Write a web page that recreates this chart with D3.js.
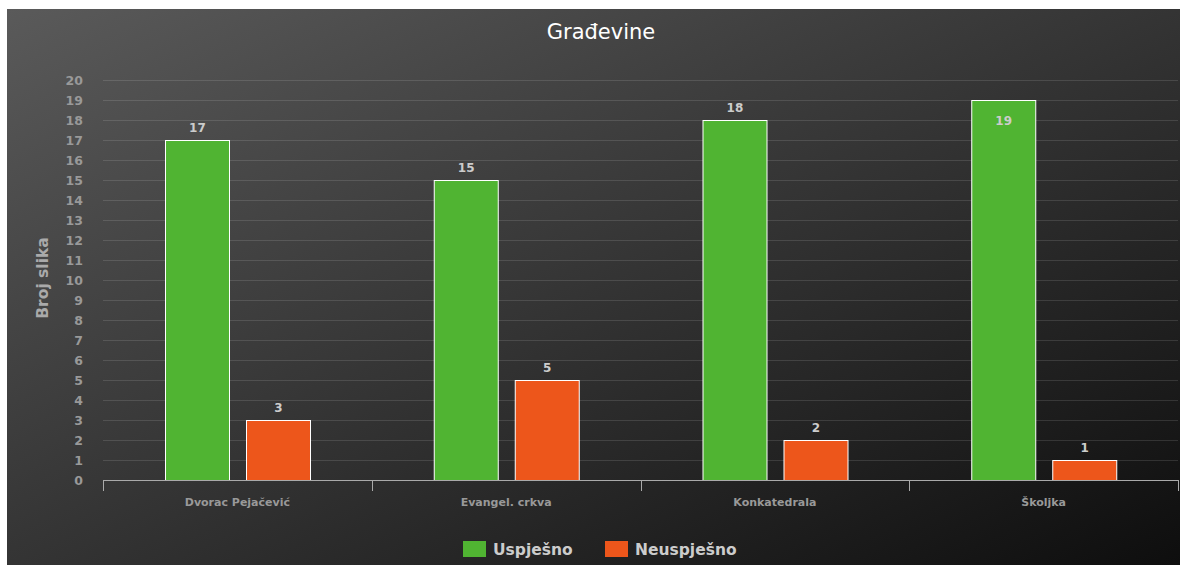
<!DOCTYPE html>
<html>
<head>
<meta charset="utf-8">
<script src="https://cdn.jsdelivr.net/npm/d3@7"></script>
<style>
  html, body { margin: 0; padding: 0; background: #fff; }
  svg { display: block; }
</style>
</head>
<body>
<svg id="chart" width="1185" height="565"></svg>
<script>
const categories = ["Dvorac Pejačević", "Evangel. crkva", "Konkatedrala", "Školjka"];
const seriesNames = ["Uspješno", "Neuspješno"];
const uspjesno = [17, 15, 18, 19];
const neuspjesno = [3, 5, 2, 1];
const yTicks = d3.range(0, 21);
const title = "Građevine";
const yTitle = "Broj slika";
const colors = ["#50B432", "#ED561B"];

const svg = d3.select("#chart");
const bg = { x: 7, y: 9, w: 1173, h: 556 };
const plot = { left: 103, right: 1178, top: 80, bottom: 480 };

const defs = svg.append("defs");
const grad = defs.append("linearGradient").attr("id", "bgGrad")
  .attr("x1", 0).attr("y1", 0).attr("x2", 1).attr("y2", 1);
grad.append("stop").attr("offset", 0).attr("stop-color", "rgb(90,90,90)");
grad.append("stop").attr("offset", 1).attr("stop-color", "rgb(14,14,14)");

svg.append("rect").attr("x", bg.x).attr("y", bg.y).attr("width", bg.w).attr("height", bg.h)
  .attr("fill", "url(#bgGrad)");

const x = d3.scaleBand().domain(categories).range([plot.left, plot.right]).paddingInner(0).paddingOuter(0);
const y = d3.scaleLinear().domain([0, 20]).range([plot.bottom, plot.top]);
const xs = d3.scaleBand().domain(seriesNames).range([0, x.bandwidth()]).paddingInner(0.21).paddingOuter(0.765);

// grid lines
svg.append("g").selectAll("line").data(yTicks.filter(d => d > 0)).join("line")
  .attr("x1", plot.left).attr("x2", plot.right)
  .attr("y1", d => y(d) + 0.5).attr("y2", d => y(d) + 0.5)
  .attr("stroke", "rgba(255,255,255,0.12)").attr("stroke-width", 1);

// y axis labels
const yAxis = d3.axisLeft(y).tickValues(yTicks).tickSize(0).tickPadding(0).tickFormat(d3.format("d"));
const yg = svg.append("g").attr("transform", `translate(${plot.left - 20},0)`).call(yAxis);
yg.select(".domain").remove();
yg.selectAll("text").attr("fill", "#999").attr("font-family", "DejaVu Sans, sans-serif")
  .attr("font-weight", "bold").attr("font-size", "12.5px").attr("dy", "0.35em");

// y title
svg.append("text").attr("transform", `translate(48,${(plot.top + plot.bottom) / 2 - 2}) rotate(-90)`)
  .attr("text-anchor", "middle").attr("fill", "#aaa")
  .attr("font-family", "DejaVu Sans, sans-serif").attr("font-weight", "bold").attr("font-size", "15.5px")
  .text(yTitle);

// bars
const rows = categories.map((c, i) => ({ cat: c, vals: [uspjesno[i], neuspjesno[i]] }));
const groups = svg.append("g").selectAll("g").data(rows).join("g")
  .attr("transform", d => `translate(${x(d.cat)},0)`);
groups.selectAll("rect").data(d => d.vals.map((v, j) => ({ name: seriesNames[j], v, j }))).join("rect")
  .attr("x", d => Math.round(xs(d.name)) + 0.5)
  .attr("y", d => y(d.v) + 0.5)
  .attr("width", Math.round(xs.bandwidth()))
  .attr("height", d => y(0) - y(d.v))
  .attr("fill", d => colors[d.j])
  .attr("stroke", "#fff").attr("stroke-width", 1);

groups.selectAll("text").data(d => d.vals.map((v, j) => ({ name: seriesNames[j], v, j }))).join("text")
  .attr("x", d => xs(d.name) + xs.bandwidth() / 2 + 0.5)
  .attr("y", d => {
    const above = y(d.v) - 8;
    return (above - 14 < plot.top) ? y(d.v) + 25 : above;
  })
  .attr("text-anchor", "middle").attr("fill", "#ccc")
  .attr("font-family", "DejaVu Sans, sans-serif").attr("font-weight", "bold").attr("font-size", "12px")
  .text(d => d.v);

// x axis
const xAxis = d3.axisBottom(x).tickSize(0).tickPadding(0);
const xg = svg.append("g").attr("transform", `translate(0,${plot.bottom})`).call(xAxis);
xg.select(".domain").remove();
xg.selectAll("text").attr("fill", "#999").attr("font-family", "DejaVu Sans, sans-serif")
  .attr("font-weight", "bold").attr("font-size", "11px").attr("dy", "26px");
svg.append("line").attr("x1", plot.left).attr("x2", plot.right)
  .attr("y1", plot.bottom + 0.5).attr("y2", plot.bottom + 0.5)
  .attr("stroke", "#aaa").attr("stroke-width", 1);
const bounds = categories.map(c => x(c)).concat([plot.right]);
svg.append("g").selectAll("line").data(bounds).join("line")
  .attr("x1", d => Math.round(d) + 0.5).attr("x2", d => Math.round(d) + 0.5)
  .attr("y1", plot.bottom).attr("y2", plot.bottom + 11)
  .attr("stroke", "#aaa").attr("stroke-width", 1);

// title
svg.append("text").attr("x", 601).attr("y", 39).attr("text-anchor", "middle")
  .attr("fill", "#fff").attr("font-family", "DejaVu Sans, sans-serif").attr("font-size", "21px")
  .text(title);

// legend
const legendItems = [{ name: seriesNames[0], x: 463 }, { name: seriesNames[1], x: 605 }];
const lg = svg.append("g").selectAll("g").data(legendItems).join("g")
  .attr("transform", d => `translate(${d.x},541)`);
lg.append("rect").attr("width", 23).attr("height", 16).attr("fill", (d, i) => colors[i]);
lg.append("text").attr("x", 30).attr("y", 14).attr("fill", "#ccc")
  .attr("font-family", "DejaVu Sans, sans-serif").attr("font-weight", "bold").attr("font-size", "15.5px")
  .text(d => d.name);
</script>
</body>
</html>
